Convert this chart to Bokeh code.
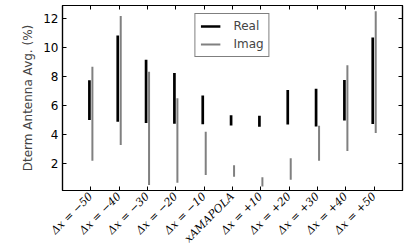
import math
from bokeh.plotting import figure
from bokeh.models import (ColumnDataSource, FixedTicker, LinearAxis, Range1d,
                          Legend, LegendItem)
from bokeh.transform import dodge
from bokeh.embed import file_html
from bokeh.resources import INLINE

# ---- data ----
labels = ["Δx = −50", "Δx = −40", "Δx = −30", "Δx = −20", "Δx = −10",
          "xAMAPOLA", "Δx = +10", "Δx = +20", "Δx = +30", "Δx = +40", "Δx = +50"]
positions = list(range(len(labels)))
real_low = [5.00, 4.88, 4.79, 4.73, 4.70, 4.61, 4.53, 4.68, 4.55, 4.96, 4.72]
real_high = [7.75, 10.84, 9.17, 8.25, 6.69, 5.33, 5.29, 7.08, 7.16, 7.77, 10.71]
imag_low = [2.18, 3.26, 0.50, 0.65, 1.20, 1.08, 0.40, 0.87, 2.18, 2.85, 4.09]
imag_high = [8.69, 12.20, 8.34, 6.50, 4.18, 1.87, 1.04, 2.35, 4.60, 8.78, 12.52]
y_ticks = [2, 4, 6, 8, 10, 12]

src = ColumnDataSource(dict(x=positions, rl=real_low, rh=real_high,
                            il=imag_low, ih=imag_high))

FONT = "DejaVu Sans"
GRAY = "#808080"

p = figure(width=407, height=252, output_backend="svg", toolbar_location=None,
           x_range=Range1d(-1, 11), y_range=Range1d(0.12, 12.92),
           min_border_left=62, min_border_right=5, min_border_top=5,
           min_border_bottom=51)
p.background_fill_color = "white"
p.border_fill_color = "white"
p.outline_line_color = "black"
p.outline_line_width = 1.2
p.outline_line_alpha = 1
p.xgrid.visible = False
p.ygrid.visible = False

r_real = p.segment(x0=dodge("x", -0.05), x1=dodge("x", -0.05), y0="rl", y1="rh",
                   source=src, line_color="black", line_width=2.7)
r_imag = p.segment(x0=dodge("x", 0.055), x1=dodge("x", 0.055), y0="il", y1="ih",
                   source=src, line_color=GRAY, line_width=2)

# bottom axis
xa = p.xaxis[0]
xa.ticker = FixedTicker(ticks=positions)
xa.major_label_overrides = {i: l for i, l in zip(positions, labels)}
xa.major_label_orientation = math.pi / 4
xa.major_label_text_font = "DejaVu Serif"
xa.major_label_text_font_style = "italic"
xa.major_label_text_font_size = "11px"
xa.major_label_standoff = 4

# left axis
ya = p.yaxis[0]
ya.ticker = FixedTicker(ticks=y_ticks)
ya.major_label_text_font = FONT
ya.major_label_text_font_size = "12px"
ya.major_label_standoff = 4
ya.axis_label = "Dterm Antenna Avg. (%)"
ya.axis_label_text_font = FONT
ya.axis_label_text_font_size = "12px"
ya.axis_label_text_font_style = "normal"
ya.axis_label_standoff = 5

for ax in (xa, ya):
    ax.axis_line_color = "black"
    ax.axis_line_width = 1.2
    ax.major_tick_in = 4
    ax.major_tick_out = 0
    ax.major_tick_line_width = 1
    ax.minor_tick_line_color = None
    ax.major_tick_line_color = "black"
    ax.major_label_text_color = "black"

# top & right tick-only axes
top = LinearAxis(ticker=FixedTicker(ticks=positions))
right = LinearAxis(ticker=FixedTicker(ticks=y_ticks))
for ax in (top, right):
    ax.axis_line_color = "black"
    ax.axis_line_width = 1.2
    ax.major_tick_in = 4
    ax.major_tick_out = 0
    ax.major_tick_line_color = "black"
    ax.minor_tick_line_color = None
    ax.major_label_text_color = None
    ax.major_label_standoff = 0
p.add_layout(top, "above")
p.add_layout(right, "right")

legend = Legend(items=[LegendItem(label="Real", renderers=[r_real]),
                       LegendItem(label="Imag", renderers=[r_imag])],
                location="top_center")
legend.label_text_font = FONT
legend.label_text_font_size = "12px"
legend.glyph_width = 20
legend.glyph_height = 14
legend.label_height = 14
legend.label_standoff = 13
legend.spacing = 4
legend.padding = 5
legend.margin = 8
legend.border_line_color = "black"
legend.border_line_width = 1
legend.background_fill_alpha = 1
p.add_layout(legend)

open("out.html", "w").write(file_html(p, INLINE))
